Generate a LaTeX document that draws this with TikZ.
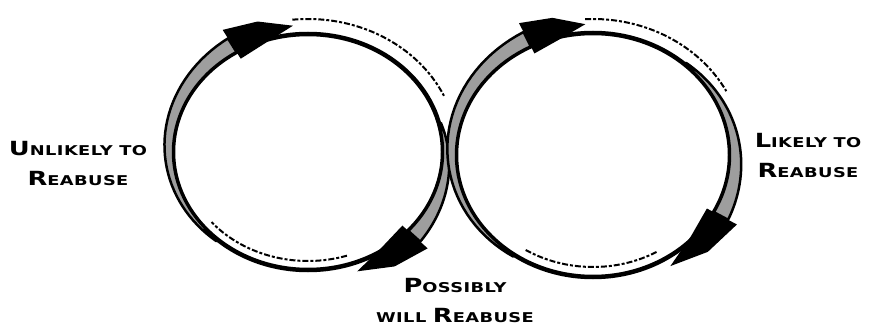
\documentclass[tikz,border=0pt]{standalone}
\usepackage{fontspec}
\newfontfamily\cop[FakeStretch=1.32,LetterSpace=3]{DejaVu Sans Bold}
\newcommand{\bigc}[1]{{\fontsize{19.5}{20}\selectfont #1}}
\newcommand{\smc}[1]{{\fontsize{13.5}{14}\selectfont #1}}
% point on ellipse: cx cy rx ry offset angle
\newcommand{\EP}[6]{({#1+(#3+(#5))*cos(#6)},{#2+(#4+(#5))*sin(#6)})}
% tapered band: cx cy rx ry ts t0 w
\newcommand{\band}[7]{%
  \filldraw[bandfill] plot[domain=#5:#6,samples=40]
    ({#1+(#3+2+((#7)-2)*(\x-(#5))/((#6)-(#5)))*cos(\x)},{#2+(#4+2+((#7)-2)*(\x-(#5))/((#6)-(#5)))*sin(\x)})
    -- plot[domain=#6:#5,samples=40] ({#1+(#3)*cos(\x)},{#2+(#4)*sin(\x)}) -- cycle;}
% arrow head: cx cy rx ry t0 t1 w
\newcommand{\head}[7]{%
  \fill[black] \EP{#1}{#2}{#3}{#4}{-8}{#5} -- \EP{#1}{#2}{#3}{#4}{-3}{(#5+#6)/2}
    -- \EP{#1}{#2}{#3}{#4}{(#7)/2+1}{#6} -- \EP{#1}{#2}{#3}{#4}{#7+4}{(#5+#6)/2}
    -- \EP{#1}{#2}{#3}{#4}{#7+10}{#5} -- cycle;}
% dashed trail: cx cy rx ry d ta tb
\newcommand{\trail}[7]{%
  \draw[trailline] \EP{#1}{#2}{#3}{#4}{#5}{#6} arc[start angle=#6, end angle=#7, x radius=#3+(#5), y radius=#4+(#5)];}
\tikzset{
  ring/.style={draw=black, line width=4.5pt},
  bandfill/.style={fill=black!38, draw=black, line width=2.5pt, line join=round},
  trailline/.style={draw=black, line width=2pt, dash pattern=on 6pt off 2pt on 3pt off 2pt},
  lbl/.style={font={\cop\fontsize{13.5}{30}\selectfont}, align=center, inner sep=0pt}
}
\begin{document}
\begin{tikzpicture}[x=1pt,y=1pt]
\useasboundingbox (0,-326) rectangle (876,0);
\fill[white] (0,-326) rectangle (876,0);
% left loop
\coordinate (c1) at (308,-152);
\draw[ring] (c1) ellipse[x radius=135, y radius=118];
\band{308}{-152}{135}{118}{228}{122}{16}
\head{308}{-152}{135}{118}{122}{96}{16}
\trail{308}{-152}{135}{118}{15}{96}{25}
\band{308}{-152}{135}{118}{14}{-42}{16}
\head{308}{-152}{135}{118}{-42}{-70}{16}
\trail{308}{-152}{135}{118}{-9}{-72}{-140}
% right loop
\coordinate (c2) at (593,-155);
\draw[ring] (c2) ellipse[x radius=137, y radius=122];
\band{593}{-155}{137}{122}{235}{117}{16}
\head{593}{-155}{137}{122}{117}{93}{16}
\trail{593}{-155}{137}{122}{14}{93}{28}
\band{593}{-155}{137}{122}{48}{-28}{16}
\head{593}{-155}{137}{122}{-28}{-58}{16}
\trail{593}{-155}{137}{122}{-10}{-60}{-122}
% labels
\node[lbl] (unlikely) at (78,-163) {\bigc{U}\smc{NLIKELY TO}\\\bigc{R}\smc{EABUSE}};
\node[lbl] (likely) at (808,-155) {\bigc{L}\smc{IKELY TO}\\\bigc{R}\smc{EABUSE}};
\node[lbl] (possibly) at (455,-300) {\bigc{P}\smc{OSSIBLY}\\\smc{WILL }\bigc{R}\smc{EABUSE}};
\end{tikzpicture}
\end{document}
